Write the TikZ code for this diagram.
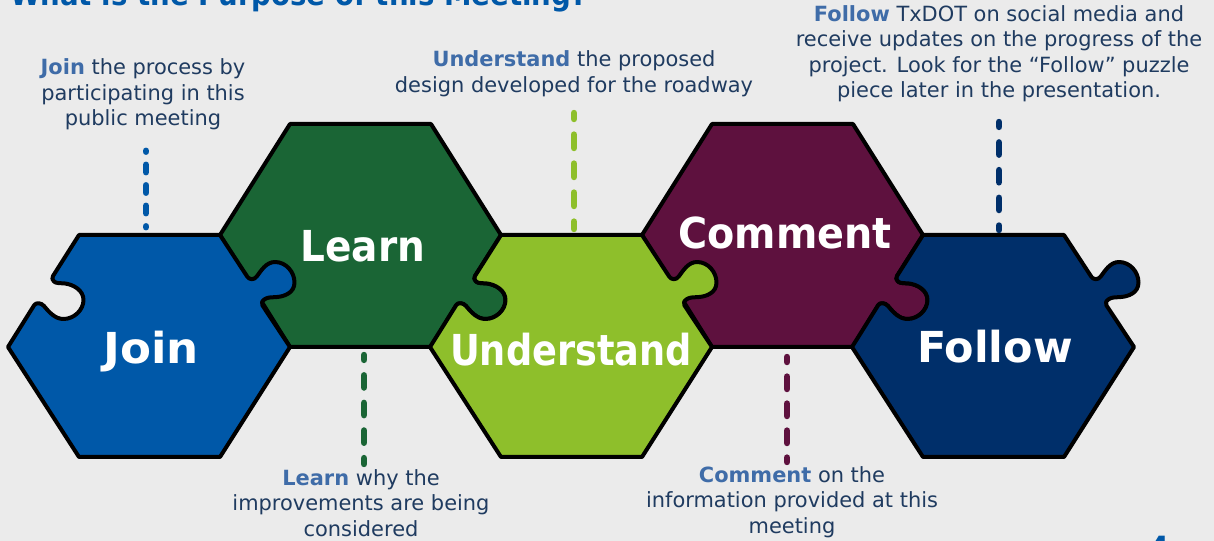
\documentclass[tikz,border=0pt]{standalone}
\usepackage{fontspec}
\setmainfont{DejaVu Sans}
\newfontfamily\condfont{DejaVu Sans Condensed}
\definecolor{bgc}{HTML}{EBEBEB}
\definecolor{joinc}{HTML}{0058A8}
\definecolor{learnc}{HTML}{1A6535}
\definecolor{underc}{HTML}{8EBF2B}
\definecolor{commentc}{HTML}{5E113E}
\definecolor{followc}{HTML}{002F6A}
\definecolor{txtc}{HTML}{1F3B60}
\definecolor{leadc}{HTML}{3F6CA8}
\tikzset{
  piece/.style={draw=black,line width=3pt,line join=round},
  bigword/.style={anchor=base,text=white,font=\condfont\fontsize{32pt}{36pt}\selectfont\bfseries,inner sep=0pt},
  note/.style={text=txtc,align=center,inner sep=0pt,font=\fontsize{15.7pt}{19.1pt}\selectfont},
  link/.style={line width=5.2pt,line cap=round},
}
\newcommand{\lead}[1]{\textcolor{leadc}{\textbf{#1}}}
\newcommand{\bottompiece}[1]{%
  \path[piece,fill=#1] (79,235) -- (220,235) -- (247.3,276.7)
    .. controls (249,279.5) and (254,280.5) .. (256.7,276.5)
    .. controls (261,271) and (266,262) .. (275,262)
    .. controls (286,262) and (294.5,272) .. (294.5,282.5)
    .. controls (294.5,293) and (284,296.5) .. (277,297)
    .. controls (272,297.5) and (268,297) .. (265,299)
    .. controls (262,301) and (261,303) .. (262.5,305.5)
    -- (290,347) -- (220,457) -- (79,457) -- (8,347) -- (34.3,305)
    .. controls (36,302.5) and (41,302.5) .. (44,306)
    .. controls (49,312) and (55,319) .. (63.5,319)
    .. controls (74,319) and (83.5,310) .. (83.5,300)
    .. controls (83.5,290) and (73,284.5) .. (65,283.5)
    .. controls (60,283) and (56,283.5) .. (54,281.5)
    .. controls (52,280) and (52,278) .. (53,276) -- cycle;}
\newcommand{\toppiece}[1]{%
  \path[piece,fill=#1] (290,124) -- (431,124) -- (501,235) -- (475,276)
    .. controls (474,278) and (474,280) .. (476,281.5)
    .. controls (478,283.5) and (482,283) .. (487,283.5)
    .. controls (495,284.5) and (505.5,290) .. (505.5,300)
    .. controls (505.5,310) and (496,319) .. (485.5,319)
    .. controls (477,319) and (471,312) .. (466,306)
    .. controls (463,302.5) and (458,302.5) .. (456.3,305)
    -- (431,347) -- (290,347) -- (220,235) -- cycle;}
\begin{document}
\begin{tikzpicture}[x=0.75pt,y=-0.75pt]
\useasboundingbox (0,0) rectangle (1214,541);
\clip (0,0) rectangle (1214,541);
\fill[bgc] (0,0) rectangle (1214,541);
% title and page number, both cut by the frame
\node[anchor=base west,inner sep=0pt,text=joinc,font=\condfont\fontsize{23pt}{26pt}\selectfont\bfseries] (title) at (10,6) {What is the Purpose of this Meeting?};
\node[anchor=base,inner sep=0pt,text=joinc,font=\condfont\fontsize{24pt}{26pt}\selectfont\bfseries] (pagenum) at (1160,559) {4};
% pieces
\toppiece{learnc}
\begin{scope}[shift={(422,0)}]\toppiece{commentc}\end{scope}
\bottompiece{joinc}
\begin{scope}[shift={(422,0)}]\bottompiece{underc}\end{scope}
\begin{scope}[shift={(844,0)}]\bottompiece{followc}\end{scope}
% piece words
\node[bigword] (wjoin) at (151,364) {\scalebox{1.175}[1]{Join}};
\node[bigword] (wlearn) at (363,262) {\scalebox{1.016}[1]{Learn}};
\node[bigword] (wunder) at (571,366) {\scalebox{0.956}[1]{Understand}};
\node[bigword] (wcomment) at (785,249) {\scalebox{1.034}[1]{Comment}};
\node[bigword] (wfollow) at (995,363) {\scalebox{1.117}[1]{Follow}};
% notes
\node[note] (njoin) at (143,94.5) {\lead{Join} the process by\\participating in this\\public meeting};
\node[note] (nunder) at (574,73.5) {\lead{Understand} the proposed\\design developed for the roadway};
\node[note] (nfollow) at (999,53.5) {\lead{Follow} TxDOT on social media and\\receive updates on the progress of the\\project. Look for the “Follow” puzzle\\piece later in the presentation.};
\node[note] (nlearn) at (361,503) {\lead{Learn} why the\\improvements are being\\considered};
\node[note] (ncomment) at (792,502) {\lead{Comment} on the\\information provided at this\\meeting};
% connector ends
\coordinate (ja) at (146,151); \coordinate (jb) at (146,227);
\coordinate (la) at (364,355.25); \coordinate (lb) at (364,463.75);
\coordinate (ua) at (574,113.25); \coordinate (ub) at (574,228.75);
\coordinate (ca) at (787,357.25); \coordinate (cb) at (787,461.75);
\coordinate (fa) at (999,122.25); \coordinate (fb) at (999,229.75);
\draw[link,joinc,dash pattern=on 5.25pt off 10.125pt,dash phase=4.875pt] (ja) -- (jb);
\draw[link,learnc,dash pattern=on 8.85pt off 11.85pt,dash phase=5.5pt] (la) -- (lb);
\draw[link,underc,dash pattern=on 9.75pt off 12pt,dash phase=5.6pt] (ua) -- (ub);
\draw[link,commentc,dash pattern=on 9pt off 11.25pt,dash phase=5.6pt] (ca) -- (cb);
\draw[link,followc,dash pattern=on 8.85pt off 11.93pt,dash phase=5.5pt] (fa) -- (fb);
\end{tikzpicture}
\end{document}
